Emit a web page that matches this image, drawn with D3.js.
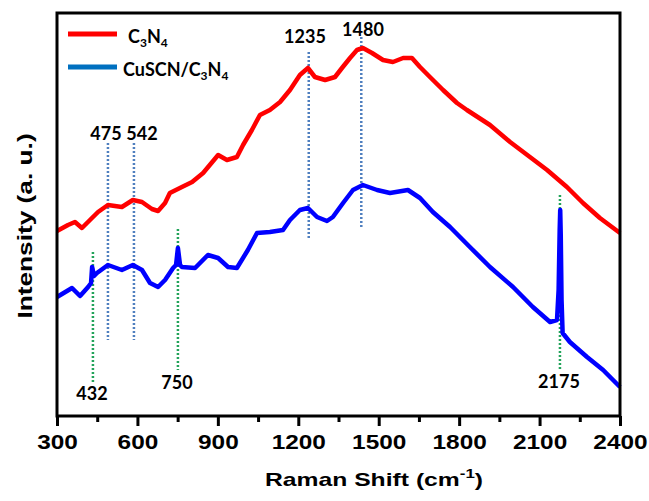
<!DOCTYPE html>
<html>
<head>
<meta charset="utf-8">
<script src="https://cdn.jsdelivr.net/npm/d3@7"></script>
<style>
  body { margin: 0; background: #fff; }
  svg { display: block; }
</style>
</head>
<body>
<svg></svg>
<script>
// Raman shift (cm-1) and intensity (a.u.)
const c3n4Shift = [300, 341, 367, 393, 423, 453, 490, 542, 583, 617, 654, 677, 703, 721, 766, 804, 845,
  901, 934, 971, 994, 1027, 1057, 1094, 1132, 1169, 1206, 1236, 1262, 1300, 1337, 1363, 1393, 1419,
  1441, 1475, 1516, 1553, 1591, 1624, 1654, 1691, 1740, 1792, 1829, 1915, 1990, 2064, 2128, 2202,
  2262, 2325, 2400];
const c3n4Int = [185, 191, 194, 188, 196, 204, 211, 209, 216, 214, 207, 205, 213, 223, 229, 234, 243,
  261, 256, 259, 271, 286, 301, 306, 314, 326, 341, 348, 339, 336, 339, 348, 358, 366,
  368, 363, 356, 354, 358, 358, 349, 339, 326, 313, 306, 291, 274, 259, 246, 229,
  213, 198, 183];

const cuscnShift = [300, 356, 386, 416, 427, 431, 438, 449, 490, 542, 583, 617, 647, 677, 703, 733,
  744, 751, 759, 766, 815, 863, 901, 938, 971, 1012, 1046, 1094, 1143, 1169, 1206, 1236, 1270,
  1307, 1329, 1367, 1404, 1441, 1494, 1542, 1609, 1654, 1702, 1766, 1840, 1915, 2001, 2075, 2139,
  2165, 2171, 2175, 2177, 2179, 2182, 2186, 2213, 2277, 2337, 2400];
const cuscnInt = [119, 128, 120, 129, 133, 149, 140, 143, 151, 146, 151, 146, 133, 129, 136, 148,
  151, 168, 151, 149, 148, 161, 158, 149, 148, 166, 183, 184, 186, 196, 206, 208, 199,
  195, 199, 213, 226, 231, 226, 223, 226, 218, 204, 189, 169, 149, 129, 109, 94,
  96, 126, 186, 206, 181, 116, 83, 74, 59, 46, 29];

const seriesNames = ["C3N4", "CuSCN/C3N4"];
const xTicks = [300, 600, 900, 1200, 1500, 1800, 2100, 2400];
const xMinorTicks = [450, 750, 1050, 1350, 1650, 1950, 2250];

// peak guides: label, line position, line top / bottom (intensity)
const bluePeakLabels = ["475", "542", "1235", "1480"];
const bluePeakPos = [490, 587, 1239, 1435];
const bluePeakTop = [273, 273, 364, 379];
const bluePeakBottom = [76, 76, 176, 189];
const greenPeakLabels = ["432", "750", "2175"];
const greenPeakPos = [434, 751, 2176];
const greenPeakTop = [164, 187, 221];
const greenPeakBottom = [32, 46, 46];

const svg = d3.select("svg").attr("width", 649).attr("height", 501);

const margin = { top: 13, right: 29, bottom: 85, left: 57 };
const width = 649 - margin.left - margin.right;
const height = 501 - margin.top - margin.bottom;

const xScale = d3.scaleLinear().domain([300, 2400]).range([0, width]);
const yScale = d3.scaleLinear().domain([0, 403]).range([height, 0]);

const g = svg.append("g").attr("transform", `translate(${margin.left}, ${margin.top})`);

const stretch = (sel, k) => {
  sel.each(function () {
    const len = this.getComputedTextLength();
    d3.select(this).attr("textLength", len * k).attr("lengthAdjust", "spacingAndGlyphs");
  });
};

//Dotted peak guides
const blueGuides = bluePeakPos.map((p, i) => ({ p, t: bluePeakTop[i], b: bluePeakBottom[i] }));
const greenGuides = greenPeakPos.map((p, i) => ({ p, t: greenPeakTop[i], b: greenPeakBottom[i] }));

g.selectAll(".guide-blue")
  .data(blueGuides)
  .enter()
  .append("line")
  .attr("x1", (d) => xScale(d.p))
  .attr("x2", (d) => xScale(d.p))
  .attr("y1", (d) => yScale(d.t))
  .attr("y2", (d) => yScale(d.b))
  .attr("stroke", "#4f7fbf")
  .attr("stroke-width", 2.5)
  .attr("stroke-dasharray", "2,2");

g.selectAll(".guide-green")
  .data(greenGuides)
  .enter()
  .append("line")
  .attr("x1", (d) => xScale(d.p))
  .attr("x2", (d) => xScale(d.p))
  .attr("y1", (d) => yScale(d.t))
  .attr("y2", (d) => yScale(d.b))
  .attr("stroke", "#22a35a")
  .attr("stroke-width", 2.5)
  .attr("stroke-dasharray", "2,2");

//Curves
const line = d3.line().x((d) => xScale(d[0])).y((d) => yScale(d[1]));

g.append("path")
  .datum(c3n4Shift.map((s, i) => [s, c3n4Int[i]]))
  .attr("d", line)
  .attr("fill", "none")
  .attr("stroke", "#ff0000")
  .attr("stroke-width", 4.5)
  .attr("stroke-linejoin", "round");

g.append("path")
  .datum(cuscnShift.map((s, i) => [s, cuscnInt[i]]))
  .attr("d", line)
  .attr("fill", "none")
  .attr("stroke", "#0000ff")
  .attr("stroke-width", 4.5)
  .attr("stroke-linejoin", "round");

//Frame
g.append("rect")
  .attr("width", width)
  .attr("height", height)
  .attr("fill", "none")
  .attr("stroke", "#000")
  .attr("stroke-width", 3);

//Axes
const xAxis = g.append("g")
  .attr("transform", `translate(0, ${height})`)
  .call(d3.axisBottom(xScale).tickValues(xTicks).tickSize(10).tickPadding(9).tickFormat(d3.format("d")));

const xMinor = g.append("g")
  .attr("transform", `translate(0, ${height})`)
  .call(d3.axisBottom(xScale).tickValues(xMinorTicks).tickSize(6).tickFormat(""));

[xAxis, xMinor].forEach((a) => {
  a.select(".domain").remove();
  a.selectAll("line").attr("stroke", "#000").attr("stroke-width", 3);
});

xAxis.selectAll("text")
  .attr("fill", "#000")
  .style("font-family", "'Liberation Sans', Arial, sans-serif")
  .style("font-weight", "bold")
  .style("font-size", "20px")
  .call(stretch, 1.22);

//Axis titles
const xTitle = svg.append("text")
  .attr("x", 374)
  .attr("y", 486)
  .attr("text-anchor", "middle")
  .style("font-family", "'Liberation Sans', Arial, sans-serif")
  .style("font-weight", "bold")
  .style("font-size", "19px");
xTitle.append("tspan").text("Raman Shift (cm");
xTitle.append("tspan").text("-1").attr("dy", -8).style("font-size", "13px");
xTitle.append("tspan").text(")").attr("dy", 8);
xTitle.call(stretch, 1.3);

svg.append("text")
  .attr("transform", "translate(32, 226) rotate(-90)")
  .attr("text-anchor", "middle")
  .style("font-family", "'Liberation Sans', Arial, sans-serif")
  .style("font-weight", "bold")
  .style("font-size", "21px")
  .text("Intensity (a. u.)")
  .call(stretch, 1.25);

//Peak labels
const peakLabelY = { "475": 140, "542": 140, "1235": 43, "1480": 36, "432": 400, "750": 389, "2175": 388 };
const peakLabelX = { "475": 106, "542": 142, "1235": 305, "1480": 363, "432": 92, "750": 177, "2175": 559 };

svg.selectAll(".peak-label")
  .data(bluePeakLabels.concat(greenPeakLabels))
  .enter()
  .append("text")
  .attr("x", (d) => peakLabelX[d])
  .attr("y", (d) => peakLabelY[d])
  .attr("text-anchor", "middle")
  .style("font-family", "Lato, sans-serif")
  .style("font-weight", "bold")
  .style("font-size", "18px")
  .text((d) => d);

//Legend
const legend = svg.append("g");
const legendColors = ["#ff0000", "#0070c0"];
const legendY = [34, 67];

seriesNames.forEach((name, i) => {
  legend.append("line")
    .attr("x1", 68)
    .attr("x2", 117)
    .attr("y1", legendY[i])
    .attr("y2", legendY[i])
    .attr("stroke", legendColors[i])
    .attr("stroke-width", 5);

  const t = legend.append("text")
    .attr("x", i === 0 ? 128 : 123)
    .attr("y", legendY[i] + 9)
    .style("font-family", "Lato, sans-serif")
    .style("font-weight", "bold")
    .style("font-size", "18px");
  const prefix = name.replace("C3N4", "");
  t.append("tspan").text(prefix + "C");
  t.append("tspan").text("3").attr("dy", 4).style("font-size", "12px");
  t.append("tspan").text("N").attr("dy", -4);
  t.append("tspan").text("4").attr("dy", 4).style("font-size", "12px");
});
</script>
</body>
</html>
